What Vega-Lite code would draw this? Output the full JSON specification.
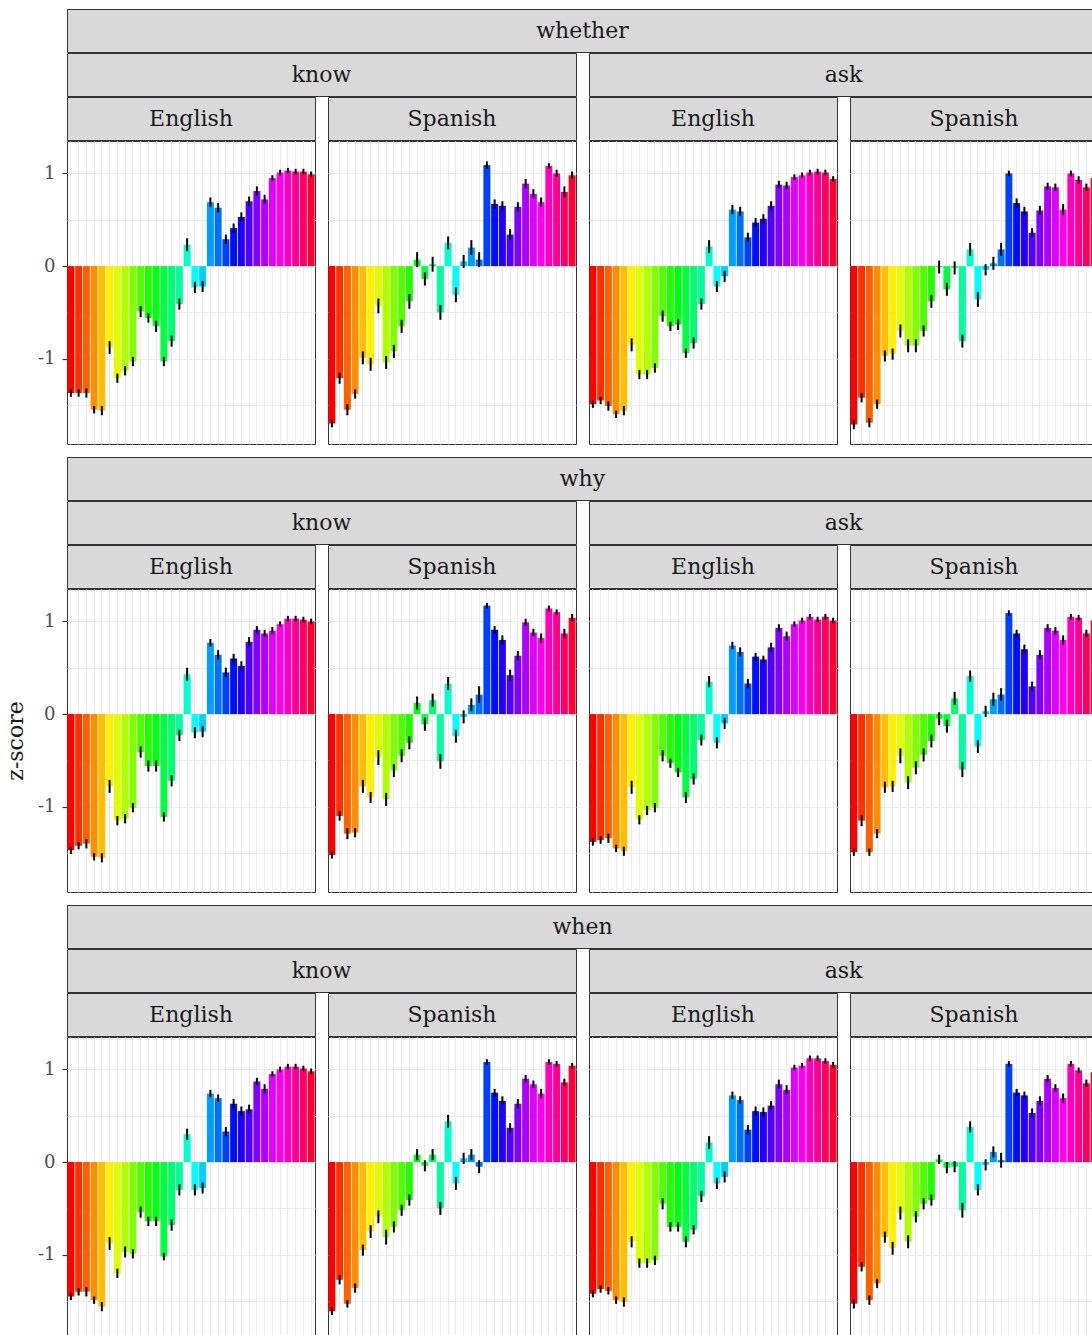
{
"$schema": "https://vega.github.io/schema/vega-lite/v6.json",
"padding": {"left": 3, "top": 8, "right": 0, "bottom": 0},
"background": "white",
"config": {
  "font": "DejaVu Serif",
  "axis": {"gridColor": "#ebebeb", "gridWidth": 1.2, "domain": false, "labelFont": "DejaVu Serif", "titleFont": "DejaVu Serif"},
  "view": {"stroke": "#333333", "strokeWidth": 1},
  "text": {"font": "DejaVu Serif", "fontSize": 22, "color": "#1a1a1a"}
},
"datasets": {
"whether_know_English": [
{"i":1,"v":-1.37,"e":0.04},{"i":2,"v":-1.37,"e":0.04},{"i":3,"v":-1.37,"e":0.05},{"i":4,"v":-1.55,"e":0.04},{"i":5,"v":-1.56,"e":0.05},{"i":6,"v":-0.88,"e":0.07},{"i":7,"v":-1.21,"e":0.05},{"i":8,"v":-1.13,"e":0.05},{"i":9,"v":-1.03,"e":0.05},{"i":10,"v":-0.49,"e":0.06},{"i":11,"v":-0.56,"e":0.05},{"i":12,"v":-0.65,"e":0.06},{"i":13,"v":-1.03,"e":0.05},{"i":14,"v":-0.81,"e":0.06},{"i":15,"v":-0.41,"e":0.06},{"i":16,"v":0.23,"e":0.07},{"i":17,"v":-0.23,"e":0.06},{"i":18,"v":-0.22,"e":0.06},{"i":19,"v":0.69,"e":0.05},{"i":20,"v":0.63,"e":0.05},{"i":21,"v":0.29,"e":0.05},{"i":22,"v":0.41,"e":0.05},{"i":23,"v":0.53,"e":0.05},{"i":24,"v":0.70,"e":0.05},{"i":25,"v":0.81,"e":0.05},{"i":26,"v":0.72,"e":0.05},{"i":27,"v":0.95,"e":0.03},{"i":28,"v":1.01,"e":0.03},{"i":29,"v":1.03,"e":0.03},{"i":30,"v":1.02,"e":0.03},{"i":31,"v":1.02,"e":0.03},{"i":32,"v":0.99,"e":0.03}],
"whether_know_Spanish": [
{"i":1,"v":-1.70,"e":0.04},{"i":2,"v":-1.21,"e":0.06},{"i":3,"v":-1.55,"e":0.06},{"i":4,"v":-1.38,"e":0.05},{"i":5,"v":-0.99,"e":0.07},{"i":6,"v":-1.06,"e":0.07},{"i":7,"v":-0.43,"e":0.08},{"i":8,"v":-1.04,"e":0.07},{"i":9,"v":-0.92,"e":0.07},{"i":10,"v":-0.65,"e":0.07},{"i":11,"v":-0.38,"e":0.08},{"i":12,"v":0.07,"e":0.08},{"i":13,"v":-0.14,"e":0.07},{"i":14,"v":0.02,"e":0.08},{"i":15,"v":-0.50,"e":0.08},{"i":16,"v":0.25,"e":0.07},{"i":17,"v":-0.31,"e":0.08},{"i":18,"v":0.05,"e":0.07},{"i":19,"v":0.20,"e":0.08},{"i":20,"v":0.07,"e":0.08},{"i":21,"v":1.09,"e":0.04},{"i":22,"v":0.67,"e":0.05},{"i":23,"v":0.65,"e":0.05},{"i":24,"v":0.34,"e":0.06},{"i":25,"v":0.64,"e":0.05},{"i":26,"v":0.89,"e":0.05},{"i":27,"v":0.78,"e":0.05},{"i":28,"v":0.69,"e":0.05},{"i":29,"v":1.08,"e":0.03},{"i":30,"v":1.00,"e":0.04},{"i":31,"v":0.80,"e":0.06},{"i":32,"v":0.98,"e":0.04}],
"whether_ask_English": [
{"i":1,"v":-1.49,"e":0.04},{"i":2,"v":-1.45,"e":0.04},{"i":3,"v":-1.51,"e":0.05},{"i":4,"v":-1.60,"e":0.04},{"i":5,"v":-1.56,"e":0.05},{"i":6,"v":-0.85,"e":0.07},{"i":7,"v":-1.17,"e":0.05},{"i":8,"v":-1.17,"e":0.05},{"i":9,"v":-1.10,"e":0.05},{"i":10,"v":-0.54,"e":0.06},{"i":11,"v":-0.65,"e":0.05},{"i":12,"v":-0.63,"e":0.06},{"i":13,"v":-0.94,"e":0.05},{"i":14,"v":-0.83,"e":0.06},{"i":15,"v":-0.41,"e":0.06},{"i":16,"v":0.21,"e":0.07},{"i":17,"v":-0.22,"e":0.06},{"i":18,"v":-0.11,"e":0.06},{"i":19,"v":0.61,"e":0.05},{"i":20,"v":0.59,"e":0.05},{"i":21,"v":0.31,"e":0.05},{"i":22,"v":0.47,"e":0.05},{"i":23,"v":0.51,"e":0.05},{"i":24,"v":0.65,"e":0.05},{"i":25,"v":0.88,"e":0.04},{"i":26,"v":0.87,"e":0.04},{"i":27,"v":0.96,"e":0.03},{"i":28,"v":0.98,"e":0.03},{"i":29,"v":1.01,"e":0.03},{"i":30,"v":1.02,"e":0.03},{"i":31,"v":1.01,"e":0.03},{"i":32,"v":0.94,"e":0.03}],
"whether_ask_Spanish": [
{"i":1,"v":-1.71,"e":0.05},{"i":2,"v":-1.42,"e":0.05},{"i":3,"v":-1.69,"e":0.05},{"i":4,"v":-1.49,"e":0.05},{"i":5,"v":-0.97,"e":0.06},{"i":6,"v":-0.95,"e":0.06},{"i":7,"v":-0.70,"e":0.07},{"i":8,"v":-0.86,"e":0.07},{"i":9,"v":-0.86,"e":0.07},{"i":10,"v":-0.70,"e":0.06},{"i":11,"v":-0.38,"e":0.07},{"i":12,"v":-0.01,"e":0.07},{"i":13,"v":-0.25,"e":0.07},{"i":14,"v":-0.02,"e":0.07},{"i":15,"v":-0.81,"e":0.07},{"i":16,"v":0.18,"e":0.07},{"i":17,"v":-0.36,"e":0.08},{"i":18,"v":-0.04,"e":0.06},{"i":19,"v":0.03,"e":0.07},{"i":20,"v":0.18,"e":0.07},{"i":21,"v":1.00,"e":0.03},{"i":22,"v":0.68,"e":0.05},{"i":23,"v":0.59,"e":0.05},{"i":24,"v":0.36,"e":0.05},{"i":25,"v":0.60,"e":0.05},{"i":26,"v":0.86,"e":0.04},{"i":27,"v":0.85,"e":0.04},{"i":28,"v":0.61,"e":0.06},{"i":29,"v":1.00,"e":0.03},{"i":30,"v":0.93,"e":0.04},{"i":31,"v":0.85,"e":0.04},{"i":32,"v":0.95,"e":0.04}],
"why_know_English": [
{"i":1,"v":-1.47,"e":0.04},{"i":2,"v":-1.42,"e":0.04},{"i":3,"v":-1.40,"e":0.05},{"i":4,"v":-1.54,"e":0.04},{"i":5,"v":-1.55,"e":0.05},{"i":6,"v":-0.78,"e":0.07},{"i":7,"v":-1.15,"e":0.05},{"i":8,"v":-1.13,"e":0.05},{"i":9,"v":-1.01,"e":0.05},{"i":10,"v":-0.41,"e":0.06},{"i":11,"v":-0.56,"e":0.06},{"i":12,"v":-0.56,"e":0.06},{"i":13,"v":-1.11,"e":0.05},{"i":14,"v":-0.72,"e":0.06},{"i":15,"v":-0.23,"e":0.06},{"i":16,"v":0.43,"e":0.07},{"i":17,"v":-0.20,"e":0.06},{"i":18,"v":-0.19,"e":0.06},{"i":19,"v":0.77,"e":0.04},{"i":20,"v":0.64,"e":0.05},{"i":21,"v":0.45,"e":0.05},{"i":22,"v":0.60,"e":0.05},{"i":23,"v":0.52,"e":0.05},{"i":24,"v":0.78,"e":0.05},{"i":25,"v":0.91,"e":0.04},{"i":26,"v":0.87,"e":0.04},{"i":27,"v":0.90,"e":0.04},{"i":28,"v":0.97,"e":0.03},{"i":29,"v":1.03,"e":0.03},{"i":30,"v":1.03,"e":0.03},{"i":31,"v":1.02,"e":0.03},{"i":32,"v":1.00,"e":0.03}],
"why_know_Spanish": [
{"i":1,"v":-1.52,"e":0.04},{"i":2,"v":-1.10,"e":0.05},{"i":3,"v":-1.29,"e":0.06},{"i":4,"v":-1.28,"e":0.05},{"i":5,"v":-0.78,"e":0.07},{"i":6,"v":-0.90,"e":0.06},{"i":7,"v":-0.47,"e":0.08},{"i":8,"v":-0.92,"e":0.07},{"i":9,"v":-0.61,"e":0.07},{"i":10,"v":-0.45,"e":0.07},{"i":11,"v":-0.31,"e":0.07},{"i":12,"v":0.12,"e":0.07},{"i":13,"v":-0.11,"e":0.07},{"i":14,"v":0.15,"e":0.07},{"i":15,"v":-0.51,"e":0.08},{"i":16,"v":0.33,"e":0.07},{"i":17,"v":-0.24,"e":0.07},{"i":18,"v":-0.03,"e":0.07},{"i":19,"v":0.10,"e":0.07},{"i":20,"v":0.21,"e":0.09},{"i":21,"v":1.17,"e":0.03},{"i":22,"v":0.91,"e":0.04},{"i":23,"v":0.80,"e":0.05},{"i":24,"v":0.42,"e":0.06},{"i":25,"v":0.63,"e":0.05},{"i":26,"v":0.99,"e":0.04},{"i":27,"v":0.88,"e":0.04},{"i":28,"v":0.82,"e":0.05},{"i":29,"v":1.14,"e":0.03},{"i":30,"v":1.10,"e":0.03},{"i":31,"v":0.87,"e":0.05},{"i":32,"v":1.04,"e":0.04}],
"why_ask_English": [
{"i":1,"v":-1.38,"e":0.04},{"i":2,"v":-1.36,"e":0.04},{"i":3,"v":-1.34,"e":0.05},{"i":4,"v":-1.45,"e":0.04},{"i":5,"v":-1.48,"e":0.05},{"i":6,"v":-0.79,"e":0.07},{"i":7,"v":-1.14,"e":0.05},{"i":8,"v":-1.04,"e":0.05},{"i":9,"v":-1.01,"e":0.05},{"i":10,"v":-0.45,"e":0.06},{"i":11,"v":-0.53,"e":0.05},{"i":12,"v":-0.63,"e":0.05},{"i":13,"v":-0.90,"e":0.06},{"i":14,"v":-0.70,"e":0.06},{"i":15,"v":-0.28,"e":0.06},{"i":16,"v":0.35,"e":0.06},{"i":17,"v":-0.31,"e":0.06},{"i":18,"v":-0.10,"e":0.06},{"i":19,"v":0.74,"e":0.04},{"i":20,"v":0.67,"e":0.05},{"i":21,"v":0.33,"e":0.05},{"i":22,"v":0.62,"e":0.04},{"i":23,"v":0.59,"e":0.04},{"i":24,"v":0.72,"e":0.05},{"i":25,"v":0.93,"e":0.04},{"i":26,"v":0.84,"e":0.05},{"i":27,"v":0.97,"e":0.03},{"i":28,"v":1.01,"e":0.03},{"i":29,"v":1.05,"e":0.03},{"i":30,"v":1.02,"e":0.03},{"i":31,"v":1.05,"e":0.03},{"i":32,"v":1.01,"e":0.03}],
"why_ask_Spanish": [
{"i":1,"v":-1.49,"e":0.04},{"i":2,"v":-1.15,"e":0.06},{"i":3,"v":-1.49,"e":0.04},{"i":4,"v":-1.29,"e":0.05},{"i":5,"v":-0.79,"e":0.06},{"i":6,"v":-0.78,"e":0.06},{"i":7,"v":-0.45,"e":0.08},{"i":8,"v":-0.74,"e":0.07},{"i":9,"v":-0.58,"e":0.07},{"i":10,"v":-0.44,"e":0.07},{"i":11,"v":-0.29,"e":0.07},{"i":12,"v":-0.05,"e":0.07},{"i":13,"v":-0.13,"e":0.07},{"i":14,"v":0.17,"e":0.07},{"i":15,"v":-0.60,"e":0.08},{"i":16,"v":0.41,"e":0.06},{"i":17,"v":-0.35,"e":0.07},{"i":18,"v":0.03,"e":0.06},{"i":19,"v":0.16,"e":0.07},{"i":20,"v":0.21,"e":0.07},{"i":21,"v":1.09,"e":0.03},{"i":22,"v":0.87,"e":0.04},{"i":23,"v":0.70,"e":0.05},{"i":24,"v":0.30,"e":0.05},{"i":25,"v":0.64,"e":0.05},{"i":26,"v":0.93,"e":0.04},{"i":27,"v":0.90,"e":0.04},{"i":28,"v":0.80,"e":0.05},{"i":29,"v":1.05,"e":0.03},{"i":30,"v":1.04,"e":0.03},{"i":31,"v":0.87,"e":0.04},{"i":32,"v":1.01,"e":0.04}],
"when_know_English": [
{"i":1,"v":-1.45,"e":0.04},{"i":2,"v":-1.40,"e":0.04},{"i":3,"v":-1.40,"e":0.05},{"i":4,"v":-1.49,"e":0.04},{"i":5,"v":-1.56,"e":0.05},{"i":6,"v":-0.88,"e":0.07},{"i":7,"v":-1.20,"e":0.05},{"i":8,"v":-0.97,"e":0.06},{"i":9,"v":-0.99,"e":0.05},{"i":10,"v":-0.54,"e":0.06},{"i":11,"v":-0.64,"e":0.05},{"i":12,"v":-0.64,"e":0.05},{"i":13,"v":-1.02,"e":0.04},{"i":14,"v":-0.68,"e":0.06},{"i":15,"v":-0.30,"e":0.06},{"i":16,"v":0.30,"e":0.06},{"i":17,"v":-0.30,"e":0.06},{"i":18,"v":-0.28,"e":0.06},{"i":19,"v":0.74,"e":0.04},{"i":20,"v":0.69,"e":0.04},{"i":21,"v":0.33,"e":0.05},{"i":22,"v":0.63,"e":0.05},{"i":23,"v":0.55,"e":0.05},{"i":24,"v":0.57,"e":0.05},{"i":25,"v":0.87,"e":0.04},{"i":26,"v":0.79,"e":0.05},{"i":27,"v":0.95,"e":0.03},{"i":28,"v":1.00,"e":0.03},{"i":29,"v":1.03,"e":0.03},{"i":30,"v":1.03,"e":0.03},{"i":31,"v":1.01,"e":0.03},{"i":32,"v":0.98,"e":0.03}],
"when_know_Spanish": [
{"i":1,"v":-1.61,"e":0.04},{"i":2,"v":-1.27,"e":0.05},{"i":3,"v":-1.53,"e":0.04},{"i":4,"v":-1.36,"e":0.05},{"i":5,"v":-0.95,"e":0.06},{"i":6,"v":-0.75,"e":0.07},{"i":7,"v":-0.59,"e":0.07},{"i":8,"v":-0.81,"e":0.08},{"i":9,"v":-0.70,"e":0.06},{"i":10,"v":-0.52,"e":0.06},{"i":11,"v":-0.41,"e":0.06},{"i":12,"v":0.08,"e":0.06},{"i":13,"v":-0.04,"e":0.06},{"i":14,"v":0.08,"e":0.06},{"i":15,"v":-0.50,"e":0.07},{"i":16,"v":0.44,"e":0.07},{"i":17,"v":-0.23,"e":0.07},{"i":18,"v":0.04,"e":0.06},{"i":19,"v":0.08,"e":0.06},{"i":20,"v":-0.05,"e":0.07},{"i":21,"v":1.08,"e":0.03},{"i":22,"v":0.75,"e":0.04},{"i":23,"v":0.66,"e":0.05},{"i":24,"v":0.37,"e":0.05},{"i":25,"v":0.63,"e":0.05},{"i":26,"v":0.90,"e":0.04},{"i":27,"v":0.84,"e":0.04},{"i":28,"v":0.74,"e":0.05},{"i":29,"v":1.08,"e":0.03},{"i":30,"v":1.06,"e":0.03},{"i":31,"v":0.86,"e":0.04},{"i":32,"v":1.04,"e":0.03}],
"when_ask_English": [
{"i":1,"v":-1.42,"e":0.04},{"i":2,"v":-1.37,"e":0.04},{"i":3,"v":-1.39,"e":0.04},{"i":4,"v":-1.49,"e":0.04},{"i":5,"v":-1.51,"e":0.05},{"i":6,"v":-0.86,"e":0.06},{"i":7,"v":-1.09,"e":0.05},{"i":8,"v":-1.09,"e":0.05},{"i":9,"v":-1.06,"e":0.05},{"i":10,"v":-0.45,"e":0.06},{"i":11,"v":-0.70,"e":0.05},{"i":12,"v":-0.70,"e":0.05},{"i":13,"v":-0.86,"e":0.06},{"i":14,"v":-0.73,"e":0.05},{"i":15,"v":-0.37,"e":0.06},{"i":16,"v":0.21,"e":0.07},{"i":17,"v":-0.23,"e":0.06},{"i":18,"v":-0.16,"e":0.06},{"i":19,"v":0.72,"e":0.04},{"i":20,"v":0.67,"e":0.04},{"i":21,"v":0.35,"e":0.05},{"i":22,"v":0.55,"e":0.05},{"i":23,"v":0.54,"e":0.05},{"i":24,"v":0.61,"e":0.05},{"i":25,"v":0.84,"e":0.05},{"i":26,"v":0.78,"e":0.05},{"i":27,"v":1.02,"e":0.03},{"i":28,"v":1.04,"e":0.03},{"i":29,"v":1.12,"e":0.03},{"i":30,"v":1.12,"e":0.03},{"i":31,"v":1.09,"e":0.03},{"i":32,"v":1.05,"e":0.03}],
"when_ask_Spanish": [
{"i":1,"v":-1.53,"e":0.05},{"i":2,"v":-1.13,"e":0.05},{"i":3,"v":-1.49,"e":0.05},{"i":4,"v":-1.31,"e":0.05},{"i":5,"v":-0.81,"e":0.06},{"i":6,"v":-0.93,"e":0.07},{"i":7,"v":-0.55,"e":0.07},{"i":8,"v":-0.86,"e":0.07},{"i":9,"v":-0.59,"e":0.06},{"i":10,"v":-0.45,"e":0.06},{"i":11,"v":-0.41,"e":0.06},{"i":12,"v":0.03,"e":0.05},{"i":13,"v":-0.06,"e":0.06},{"i":14,"v":-0.05,"e":0.06},{"i":15,"v":-0.52,"e":0.08},{"i":16,"v":0.38,"e":0.06},{"i":17,"v":-0.30,"e":0.06},{"i":18,"v":-0.03,"e":0.06},{"i":19,"v":0.11,"e":0.06},{"i":20,"v":0.02,"e":0.08},{"i":21,"v":1.06,"e":0.03},{"i":22,"v":0.75,"e":0.04},{"i":23,"v":0.72,"e":0.04},{"i":24,"v":0.53,"e":0.05},{"i":25,"v":0.66,"e":0.05},{"i":26,"v":0.90,"e":0.04},{"i":27,"v":0.80,"e":0.04},{"i":28,"v":0.69,"e":0.05},{"i":29,"v":1.06,"e":0.03},{"i":30,"v":0.99,"e":0.03},{"i":31,"v":0.85,"e":0.04},{"i":32,"v":0.97,"e":0.04}]
},
"spacing": 11,
"vconcat": [
{"spacing": -1, "vconcat": [
 {"width": 1031, "height": 43, "data": {"values": [{"label": "whether"}]}, "view": {"fill": "#d9d9d9", "stroke": "#333333", "strokeWidth": 1}, "mark": {"type": "text"}, "encoding": {"text": {"field": "label"}}},
 {"spacing": 11, "hconcat": [
  {"spacing": -1, "vconcat": [
   {"width": 509, "height": 43, "data": {"values": [{"label": "know"}]}, "view": {"fill": "#d9d9d9", "stroke": "#333333", "strokeWidth": 1}, "mark": {"type": "text"}, "encoding": {"text": {"field": "label"}}},
   {"spacing": 11, "hconcat": [
    {"spacing": -1, "vconcat": [
     {"width": 248, "height": 43, "data": {"values": [{"label": "English"}]}, "view": {"fill": "#d9d9d9", "stroke": "#333333", "strokeWidth": 1}, "mark": {"type": "text"}, "encoding": {"text": {"field": "label"}}},
     {"width": 248, "height": 303, "data": {"name": "whether_know_English"},
      "encoding": {
       "x": {"field": "i", "type": "ordinal", "scale": {"paddingInner": 0.1, "paddingOuter": 0.05}, "axis": {"labels": false, "ticks": false, "title": null, "grid": true, "bandPosition": 0.5}},
       "y": {"field": "v", "type": "quantitative", "scale": {"domain": [-1.92, 1.35], "nice": false}, "axis": {"values": [-1.5, -1, -0.5, 0, 0.5, 1], "labelExpr": "datum.value == 1 ? '1' : datum.value == 0 ? '0' : datum.value == -1 ? '-1' : ''", "tickOpacity": {"condition": {"test": "datum.value % 1 != 0", "value": 0}, "value": 1}, "tickColor": "#333333", "tickSize": 5, "tickWidth": 1.2, "labelColor": "#4d4d4d", "labelFontSize": 18, "labelPadding": 7, "title": null, "grid": true}}
      },
      "layer": [
       {"mark": {"type": "bar"}, "encoding": {"color": {"field": "i", "type": "ordinal", "legend": null, "scale": {"range": ["#FF0000","#FF3000","#FF6000","#FF8F00","#FFBF00","#FFEF00","#DFFF00","#AFFF00","#80FF00","#50FF00","#20FF00","#00FF10","#00FF40","#00FF70","#00FF9F","#00FFCF","#00FFFF","#00CFFF","#009FFF","#0070FF","#0040FF","#0010FF","#2000FF","#5000FF","#8000FF","#AF00FF","#DF00FF","#FF00EF","#FF00BF","#FF008F","#FF0060","#FF0030"]}}}},
       {"mark": {"type": "errorbar", "color": "#000000", "thickness": 2}, "encoding": {"yError": {"field": "e"}}}
      ]}
    ]},
    {"spacing": -1, "vconcat": [
     {"width": 248, "height": 43, "data": {"values": [{"label": "Spanish"}]}, "view": {"fill": "#d9d9d9", "stroke": "#333333", "strokeWidth": 1}, "mark": {"type": "text"}, "encoding": {"text": {"field": "label"}}},
     {"width": 248, "height": 303, "data": {"name": "whether_know_Spanish"},
      "encoding": {
       "x": {"field": "i", "type": "ordinal", "scale": {"paddingInner": 0.1, "paddingOuter": 0.05}, "axis": {"labels": false, "ticks": false, "title": null, "grid": true, "bandPosition": 0.5}},
       "y": {"field": "v", "type": "quantitative", "scale": {"domain": [-1.92, 1.35], "nice": false}, "axis": {"values": [-1.5, -1, -0.5, 0, 0.5, 1], "labels": false, "ticks": false, "title": null, "grid": true}}
      },
      "layer": [
       {"mark": {"type": "bar"}, "encoding": {"color": {"field": "i", "type": "ordinal", "legend": null, "scale": {"range": ["#FF0000","#FF3000","#FF6000","#FF8F00","#FFBF00","#FFEF00","#DFFF00","#AFFF00","#80FF00","#50FF00","#20FF00","#00FF10","#00FF40","#00FF70","#00FF9F","#00FFCF","#00FFFF","#00CFFF","#009FFF","#0070FF","#0040FF","#0010FF","#2000FF","#5000FF","#8000FF","#AF00FF","#DF00FF","#FF00EF","#FF00BF","#FF008F","#FF0060","#FF0030"]}}}},
       {"mark": {"type": "errorbar", "color": "#000000", "thickness": 2}, "encoding": {"yError": {"field": "e"}}}
      ]}
    ]}
   ]}
  ]},
  {"spacing": -1, "vconcat": [
   {"width": 509, "height": 43, "data": {"values": [{"label": "ask"}]}, "view": {"fill": "#d9d9d9", "stroke": "#333333", "strokeWidth": 1}, "mark": {"type": "text"}, "encoding": {"text": {"field": "label"}}},
   {"spacing": 11, "hconcat": [
    {"spacing": -1, "vconcat": [
     {"width": 248, "height": 43, "data": {"values": [{"label": "English"}]}, "view": {"fill": "#d9d9d9", "stroke": "#333333", "strokeWidth": 1}, "mark": {"type": "text"}, "encoding": {"text": {"field": "label"}}},
     {"width": 248, "height": 303, "data": {"name": "whether_ask_English"},
      "encoding": {
       "x": {"field": "i", "type": "ordinal", "scale": {"paddingInner": 0.1, "paddingOuter": 0.05}, "axis": {"labels": false, "ticks": false, "title": null, "grid": true, "bandPosition": 0.5}},
       "y": {"field": "v", "type": "quantitative", "scale": {"domain": [-1.92, 1.35], "nice": false}, "axis": {"values": [-1.5, -1, -0.5, 0, 0.5, 1], "labels": false, "ticks": false, "title": null, "grid": true}}
      },
      "layer": [
       {"mark": {"type": "bar"}, "encoding": {"color": {"field": "i", "type": "ordinal", "legend": null, "scale": {"range": ["#FF0000","#FF3000","#FF6000","#FF8F00","#FFBF00","#FFEF00","#DFFF00","#AFFF00","#80FF00","#50FF00","#20FF00","#00FF10","#00FF40","#00FF70","#00FF9F","#00FFCF","#00FFFF","#00CFFF","#009FFF","#0070FF","#0040FF","#0010FF","#2000FF","#5000FF","#8000FF","#AF00FF","#DF00FF","#FF00EF","#FF00BF","#FF008F","#FF0060","#FF0030"]}}}},
       {"mark": {"type": "errorbar", "color": "#000000", "thickness": 2}, "encoding": {"yError": {"field": "e"}}}
      ]}
    ]},
    {"spacing": -1, "vconcat": [
     {"width": 248, "height": 43, "data": {"values": [{"label": "Spanish"}]}, "view": {"fill": "#d9d9d9", "stroke": "#333333", "strokeWidth": 1}, "mark": {"type": "text"}, "encoding": {"text": {"field": "label"}}},
     {"width": 248, "height": 303, "data": {"name": "whether_ask_Spanish"},
      "encoding": {
       "x": {"field": "i", "type": "ordinal", "scale": {"paddingInner": 0.1, "paddingOuter": 0.05}, "axis": {"labels": false, "ticks": false, "title": null, "grid": true, "bandPosition": 0.5}},
       "y": {"field": "v", "type": "quantitative", "scale": {"domain": [-1.92, 1.35], "nice": false}, "axis": {"values": [-1.5, -1, -0.5, 0, 0.5, 1], "labels": false, "ticks": false, "title": null, "grid": true}}
      },
      "layer": [
       {"mark": {"type": "bar"}, "encoding": {"color": {"field": "i", "type": "ordinal", "legend": null, "scale": {"range": ["#FF0000","#FF3000","#FF6000","#FF8F00","#FFBF00","#FFEF00","#DFFF00","#AFFF00","#80FF00","#50FF00","#20FF00","#00FF10","#00FF40","#00FF70","#00FF9F","#00FFCF","#00FFFF","#00CFFF","#009FFF","#0070FF","#0040FF","#0010FF","#2000FF","#5000FF","#8000FF","#AF00FF","#DF00FF","#FF00EF","#FF00BF","#FF008F","#FF0060","#FF0030"]}}}},
       {"mark": {"type": "errorbar", "color": "#000000", "thickness": 2}, "encoding": {"yError": {"field": "e"}}}
      ]}
    ]}
   ]}
  ]}
 ]}
]},
{"spacing": -1, "vconcat": [
 {"width": 1031, "height": 43, "data": {"values": [{"label": "why"}]}, "view": {"fill": "#d9d9d9", "stroke": "#333333", "strokeWidth": 1}, "mark": {"type": "text"}, "encoding": {"text": {"field": "label"}}},
 {"spacing": 11, "hconcat": [
  {"spacing": -1, "vconcat": [
   {"width": 509, "height": 43, "data": {"values": [{"label": "know"}]}, "view": {"fill": "#d9d9d9", "stroke": "#333333", "strokeWidth": 1}, "mark": {"type": "text"}, "encoding": {"text": {"field": "label"}}},
   {"spacing": 11, "hconcat": [
    {"spacing": -1, "vconcat": [
     {"width": 248, "height": 43, "data": {"values": [{"label": "English"}]}, "view": {"fill": "#d9d9d9", "stroke": "#333333", "strokeWidth": 1}, "mark": {"type": "text"}, "encoding": {"text": {"field": "label"}}},
     {"width": 248, "height": 303, "data": {"name": "why_know_English"},
      "encoding": {
       "x": {"field": "i", "type": "ordinal", "scale": {"paddingInner": 0.1, "paddingOuter": 0.05}, "axis": {"labels": false, "ticks": false, "title": null, "grid": true, "bandPosition": 0.5}},
       "y": {"field": "v", "type": "quantitative", "scale": {"domain": [-1.92, 1.35], "nice": false}, "axis": {"values": [-1.5, -1, -0.5, 0, 0.5, 1], "labelExpr": "datum.value == 1 ? '1' : datum.value == 0 ? '0' : datum.value == -1 ? '-1' : ''", "tickOpacity": {"condition": {"test": "datum.value % 1 != 0", "value": 0}, "value": 1}, "tickColor": "#333333", "tickSize": 5, "tickWidth": 1.2, "labelColor": "#4d4d4d", "labelFontSize": 18, "labelPadding": 7, "title": "z-score", "titleFontSize": 22, "titleFontWeight": "normal", "titleColor": "#1a1a1a", "titlePadding": 10, "grid": true}}
      },
      "layer": [
       {"mark": {"type": "bar"}, "encoding": {"color": {"field": "i", "type": "ordinal", "legend": null, "scale": {"range": ["#FF0000","#FF3000","#FF6000","#FF8F00","#FFBF00","#FFEF00","#DFFF00","#AFFF00","#80FF00","#50FF00","#20FF00","#00FF10","#00FF40","#00FF70","#00FF9F","#00FFCF","#00FFFF","#00CFFF","#009FFF","#0070FF","#0040FF","#0010FF","#2000FF","#5000FF","#8000FF","#AF00FF","#DF00FF","#FF00EF","#FF00BF","#FF008F","#FF0060","#FF0030"]}}}},
       {"mark": {"type": "errorbar", "color": "#000000", "thickness": 2}, "encoding": {"yError": {"field": "e"}}}
      ]}
    ]},
    {"spacing": -1, "vconcat": [
     {"width": 248, "height": 43, "data": {"values": [{"label": "Spanish"}]}, "view": {"fill": "#d9d9d9", "stroke": "#333333", "strokeWidth": 1}, "mark": {"type": "text"}, "encoding": {"text": {"field": "label"}}},
     {"width": 248, "height": 303, "data": {"name": "why_know_Spanish"},
      "encoding": {
       "x": {"field": "i", "type": "ordinal", "scale": {"paddingInner": 0.1, "paddingOuter": 0.05}, "axis": {"labels": false, "ticks": false, "title": null, "grid": true, "bandPosition": 0.5}},
       "y": {"field": "v", "type": "quantitative", "scale": {"domain": [-1.92, 1.35], "nice": false}, "axis": {"values": [-1.5, -1, -0.5, 0, 0.5, 1], "labels": false, "ticks": false, "title": null, "grid": true}}
      },
      "layer": [
       {"mark": {"type": "bar"}, "encoding": {"color": {"field": "i", "type": "ordinal", "legend": null, "scale": {"range": ["#FF0000","#FF3000","#FF6000","#FF8F00","#FFBF00","#FFEF00","#DFFF00","#AFFF00","#80FF00","#50FF00","#20FF00","#00FF10","#00FF40","#00FF70","#00FF9F","#00FFCF","#00FFFF","#00CFFF","#009FFF","#0070FF","#0040FF","#0010FF","#2000FF","#5000FF","#8000FF","#AF00FF","#DF00FF","#FF00EF","#FF00BF","#FF008F","#FF0060","#FF0030"]}}}},
       {"mark": {"type": "errorbar", "color": "#000000", "thickness": 2}, "encoding": {"yError": {"field": "e"}}}
      ]}
    ]}
   ]}
  ]},
  {"spacing": -1, "vconcat": [
   {"width": 509, "height": 43, "data": {"values": [{"label": "ask"}]}, "view": {"fill": "#d9d9d9", "stroke": "#333333", "strokeWidth": 1}, "mark": {"type": "text"}, "encoding": {"text": {"field": "label"}}},
   {"spacing": 11, "hconcat": [
    {"spacing": -1, "vconcat": [
     {"width": 248, "height": 43, "data": {"values": [{"label": "English"}]}, "view": {"fill": "#d9d9d9", "stroke": "#333333", "strokeWidth": 1}, "mark": {"type": "text"}, "encoding": {"text": {"field": "label"}}},
     {"width": 248, "height": 303, "data": {"name": "why_ask_English"},
      "encoding": {
       "x": {"field": "i", "type": "ordinal", "scale": {"paddingInner": 0.1, "paddingOuter": 0.05}, "axis": {"labels": false, "ticks": false, "title": null, "grid": true, "bandPosition": 0.5}},
       "y": {"field": "v", "type": "quantitative", "scale": {"domain": [-1.92, 1.35], "nice": false}, "axis": {"values": [-1.5, -1, -0.5, 0, 0.5, 1], "labels": false, "ticks": false, "title": null, "grid": true}}
      },
      "layer": [
       {"mark": {"type": "bar"}, "encoding": {"color": {"field": "i", "type": "ordinal", "legend": null, "scale": {"range": ["#FF0000","#FF3000","#FF6000","#FF8F00","#FFBF00","#FFEF00","#DFFF00","#AFFF00","#80FF00","#50FF00","#20FF00","#00FF10","#00FF40","#00FF70","#00FF9F","#00FFCF","#00FFFF","#00CFFF","#009FFF","#0070FF","#0040FF","#0010FF","#2000FF","#5000FF","#8000FF","#AF00FF","#DF00FF","#FF00EF","#FF00BF","#FF008F","#FF0060","#FF0030"]}}}},
       {"mark": {"type": "errorbar", "color": "#000000", "thickness": 2}, "encoding": {"yError": {"field": "e"}}}
      ]}
    ]},
    {"spacing": -1, "vconcat": [
     {"width": 248, "height": 43, "data": {"values": [{"label": "Spanish"}]}, "view": {"fill": "#d9d9d9", "stroke": "#333333", "strokeWidth": 1}, "mark": {"type": "text"}, "encoding": {"text": {"field": "label"}}},
     {"width": 248, "height": 303, "data": {"name": "why_ask_Spanish"},
      "encoding": {
       "x": {"field": "i", "type": "ordinal", "scale": {"paddingInner": 0.1, "paddingOuter": 0.05}, "axis": {"labels": false, "ticks": false, "title": null, "grid": true, "bandPosition": 0.5}},
       "y": {"field": "v", "type": "quantitative", "scale": {"domain": [-1.92, 1.35], "nice": false}, "axis": {"values": [-1.5, -1, -0.5, 0, 0.5, 1], "labels": false, "ticks": false, "title": null, "grid": true}}
      },
      "layer": [
       {"mark": {"type": "bar"}, "encoding": {"color": {"field": "i", "type": "ordinal", "legend": null, "scale": {"range": ["#FF0000","#FF3000","#FF6000","#FF8F00","#FFBF00","#FFEF00","#DFFF00","#AFFF00","#80FF00","#50FF00","#20FF00","#00FF10","#00FF40","#00FF70","#00FF9F","#00FFCF","#00FFFF","#00CFFF","#009FFF","#0070FF","#0040FF","#0010FF","#2000FF","#5000FF","#8000FF","#AF00FF","#DF00FF","#FF00EF","#FF00BF","#FF008F","#FF0060","#FF0030"]}}}},
       {"mark": {"type": "errorbar", "color": "#000000", "thickness": 2}, "encoding": {"yError": {"field": "e"}}}
      ]}
    ]}
   ]}
  ]}
 ]}
]},
{"spacing": -1, "vconcat": [
 {"width": 1031, "height": 43, "data": {"values": [{"label": "when"}]}, "view": {"fill": "#d9d9d9", "stroke": "#333333", "strokeWidth": 1}, "mark": {"type": "text"}, "encoding": {"text": {"field": "label"}}},
 {"spacing": 11, "hconcat": [
  {"spacing": -1, "vconcat": [
   {"width": 509, "height": 43, "data": {"values": [{"label": "know"}]}, "view": {"fill": "#d9d9d9", "stroke": "#333333", "strokeWidth": 1}, "mark": {"type": "text"}, "encoding": {"text": {"field": "label"}}},
   {"spacing": 11, "hconcat": [
    {"spacing": -1, "vconcat": [
     {"width": 248, "height": 43, "data": {"values": [{"label": "English"}]}, "view": {"fill": "#d9d9d9", "stroke": "#333333", "strokeWidth": 1}, "mark": {"type": "text"}, "encoding": {"text": {"field": "label"}}},
     {"width": 248, "height": 303, "data": {"name": "when_know_English"},
      "encoding": {
       "x": {"field": "i", "type": "ordinal", "scale": {"paddingInner": 0.1, "paddingOuter": 0.05}, "axis": {"labels": false, "ticks": false, "title": null, "grid": true, "bandPosition": 0.5}},
       "y": {"field": "v", "type": "quantitative", "scale": {"domain": [-1.92, 1.35], "nice": false}, "axis": {"values": [-1.5, -1, -0.5, 0, 0.5, 1], "labelExpr": "datum.value == 1 ? '1' : datum.value == 0 ? '0' : datum.value == -1 ? '-1' : ''", "tickOpacity": {"condition": {"test": "datum.value % 1 != 0", "value": 0}, "value": 1}, "tickColor": "#333333", "tickSize": 5, "tickWidth": 1.2, "labelColor": "#4d4d4d", "labelFontSize": 18, "labelPadding": 7, "title": null, "grid": true}}
      },
      "layer": [
       {"mark": {"type": "bar"}, "encoding": {"color": {"field": "i", "type": "ordinal", "legend": null, "scale": {"range": ["#FF0000","#FF3000","#FF6000","#FF8F00","#FFBF00","#FFEF00","#DFFF00","#AFFF00","#80FF00","#50FF00","#20FF00","#00FF10","#00FF40","#00FF70","#00FF9F","#00FFCF","#00FFFF","#00CFFF","#009FFF","#0070FF","#0040FF","#0010FF","#2000FF","#5000FF","#8000FF","#AF00FF","#DF00FF","#FF00EF","#FF00BF","#FF008F","#FF0060","#FF0030"]}}}},
       {"mark": {"type": "errorbar", "color": "#000000", "thickness": 2}, "encoding": {"yError": {"field": "e"}}}
      ]}
    ]},
    {"spacing": -1, "vconcat": [
     {"width": 248, "height": 43, "data": {"values": [{"label": "Spanish"}]}, "view": {"fill": "#d9d9d9", "stroke": "#333333", "strokeWidth": 1}, "mark": {"type": "text"}, "encoding": {"text": {"field": "label"}}},
     {"width": 248, "height": 303, "data": {"name": "when_know_Spanish"},
      "encoding": {
       "x": {"field": "i", "type": "ordinal", "scale": {"paddingInner": 0.1, "paddingOuter": 0.05}, "axis": {"labels": false, "ticks": false, "title": null, "grid": true, "bandPosition": 0.5}},
       "y": {"field": "v", "type": "quantitative", "scale": {"domain": [-1.92, 1.35], "nice": false}, "axis": {"values": [-1.5, -1, -0.5, 0, 0.5, 1], "labels": false, "ticks": false, "title": null, "grid": true}}
      },
      "layer": [
       {"mark": {"type": "bar"}, "encoding": {"color": {"field": "i", "type": "ordinal", "legend": null, "scale": {"range": ["#FF0000","#FF3000","#FF6000","#FF8F00","#FFBF00","#FFEF00","#DFFF00","#AFFF00","#80FF00","#50FF00","#20FF00","#00FF10","#00FF40","#00FF70","#00FF9F","#00FFCF","#00FFFF","#00CFFF","#009FFF","#0070FF","#0040FF","#0010FF","#2000FF","#5000FF","#8000FF","#AF00FF","#DF00FF","#FF00EF","#FF00BF","#FF008F","#FF0060","#FF0030"]}}}},
       {"mark": {"type": "errorbar", "color": "#000000", "thickness": 2}, "encoding": {"yError": {"field": "e"}}}
      ]}
    ]}
   ]}
  ]},
  {"spacing": -1, "vconcat": [
   {"width": 509, "height": 43, "data": {"values": [{"label": "ask"}]}, "view": {"fill": "#d9d9d9", "stroke": "#333333", "strokeWidth": 1}, "mark": {"type": "text"}, "encoding": {"text": {"field": "label"}}},
   {"spacing": 11, "hconcat": [
    {"spacing": -1, "vconcat": [
     {"width": 248, "height": 43, "data": {"values": [{"label": "English"}]}, "view": {"fill": "#d9d9d9", "stroke": "#333333", "strokeWidth": 1}, "mark": {"type": "text"}, "encoding": {"text": {"field": "label"}}},
     {"width": 248, "height": 303, "data": {"name": "when_ask_English"},
      "encoding": {
       "x": {"field": "i", "type": "ordinal", "scale": {"paddingInner": 0.1, "paddingOuter": 0.05}, "axis": {"labels": false, "ticks": false, "title": null, "grid": true, "bandPosition": 0.5}},
       "y": {"field": "v", "type": "quantitative", "scale": {"domain": [-1.92, 1.35], "nice": false}, "axis": {"values": [-1.5, -1, -0.5, 0, 0.5, 1], "labels": false, "ticks": false, "title": null, "grid": true}}
      },
      "layer": [
       {"mark": {"type": "bar"}, "encoding": {"color": {"field": "i", "type": "ordinal", "legend": null, "scale": {"range": ["#FF0000","#FF3000","#FF6000","#FF8F00","#FFBF00","#FFEF00","#DFFF00","#AFFF00","#80FF00","#50FF00","#20FF00","#00FF10","#00FF40","#00FF70","#00FF9F","#00FFCF","#00FFFF","#00CFFF","#009FFF","#0070FF","#0040FF","#0010FF","#2000FF","#5000FF","#8000FF","#AF00FF","#DF00FF","#FF00EF","#FF00BF","#FF008F","#FF0060","#FF0030"]}}}},
       {"mark": {"type": "errorbar", "color": "#000000", "thickness": 2}, "encoding": {"yError": {"field": "e"}}}
      ]}
    ]},
    {"spacing": -1, "vconcat": [
     {"width": 248, "height": 43, "data": {"values": [{"label": "Spanish"}]}, "view": {"fill": "#d9d9d9", "stroke": "#333333", "strokeWidth": 1}, "mark": {"type": "text"}, "encoding": {"text": {"field": "label"}}},
     {"width": 248, "height": 303, "data": {"name": "when_ask_Spanish"},
      "encoding": {
       "x": {"field": "i", "type": "ordinal", "scale": {"paddingInner": 0.1, "paddingOuter": 0.05}, "axis": {"labels": false, "ticks": false, "title": null, "grid": true, "bandPosition": 0.5}},
       "y": {"field": "v", "type": "quantitative", "scale": {"domain": [-1.92, 1.35], "nice": false}, "axis": {"values": [-1.5, -1, -0.5, 0, 0.5, 1], "labels": false, "ticks": false, "title": null, "grid": true}}
      },
      "layer": [
       {"mark": {"type": "bar"}, "encoding": {"color": {"field": "i", "type": "ordinal", "legend": null, "scale": {"range": ["#FF0000","#FF3000","#FF6000","#FF8F00","#FFBF00","#FFEF00","#DFFF00","#AFFF00","#80FF00","#50FF00","#20FF00","#00FF10","#00FF40","#00FF70","#00FF9F","#00FFCF","#00FFFF","#00CFFF","#009FFF","#0070FF","#0040FF","#0010FF","#2000FF","#5000FF","#8000FF","#AF00FF","#DF00FF","#FF00EF","#FF00BF","#FF008F","#FF0060","#FF0030"]}}}},
       {"mark": {"type": "errorbar", "color": "#000000", "thickness": 2}, "encoding": {"yError": {"field": "e"}}}
      ]}
    ]}
   ]}
  ]}
 ]}
]}
]
}
